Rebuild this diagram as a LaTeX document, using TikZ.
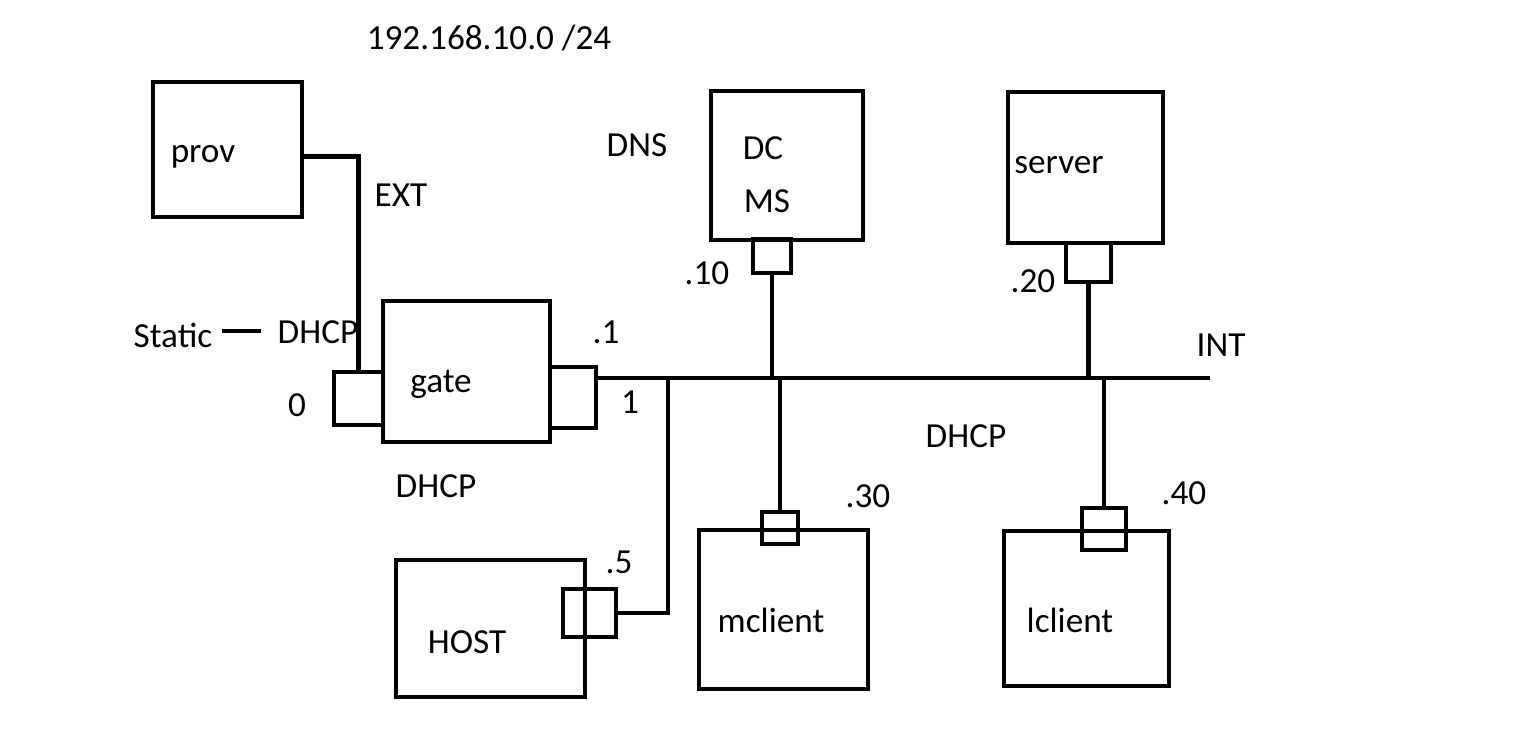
\documentclass[tikz,border=0pt]{standalone}
\usepackage{fontspec}
\setmainfont{Carlito}
\usepackage{tikz}

\tikzset{
  box/.style={draw, line width=2.2pt, inner sep=0pt},
  wire/.style={line width=2.2pt},
  lbl/.style={font=\fontsize{17.6}{20}\selectfont}
}

\begin{document}
\begin{tikzpicture}[x=0.5pt, y=-0.5pt]
\useasboundingbox (0,0) rectangle (1518,741);

% Boxes
\node[box, minimum width=74.5pt, minimum height=67.5pt] (prov) at (227.5,149.5) {};
\node[box, minimum width=83.5pt, minimum height=70.5pt] (gate) at (466.5,371.5) {};
\node[box, minimum width=24.5pt, minimum height=26.5pt] (g0) at (358.5,398.5) {};
\node[box, minimum width=23pt, minimum height=30.5pt] (g1) at (573,397.5) {};
\node[box, minimum width=76pt, minimum height=74.5pt] (dc) at (787,165.5) {};
\node[box, minimum width=19pt, minimum height=17pt] (dc10) at (772,256) {};
\node[box, minimum width=77.5pt, minimum height=75.5pt] (server) at (1085.5,167.5) {};
\node[box, minimum width=22.5pt, minimum height=19.5pt] (srv20) at (1088.5,262.5) {};
\node[box, minimum width=94.5pt, minimum height=68.5pt] (host) at (490.5,628.5) {};
\node[box, minimum width=26.5pt, minimum height=24pt] (h5) at (589.5,613) {};
\node[box, minimum width=84.5pt, minimum height=79.5pt] (mclient) at (783.5,609.5) {};
\node[box, minimum width=18pt, minimum height=16pt] (mc30) at (780,528) {};
\node[box, minimum width=82.5pt, minimum height=77.5pt] (lclient) at (1086.5,608.5) {};
\node[box, minimum width=22pt, minimum height=21pt] (lc40) at (1104,529) {};

% Texts
\node[lbl] (net) at (489,38) {192.168.10.0 /24};
\node[lbl] (provtxt) at (203,157) {prov};
\node[lbl] (ext) at (401,195) {EXT};
\node[lbl] (dns) at (637,145) {DNS};
\node[lbl] (dctxt) at (763,148) {DC};
\node[lbl] (mstxt) at (767,201) {MS};
\node[lbl] (servertxt) at (1059,165) {server};
\node[lbl] (ip10) at (707,273) {.10};
\node[lbl] (ip20) at (1033,281) {.20};
\node[lbl] (int) at (1221,345) {INT};
\node[lbl] (stat) at (173,335) {Static};
\node[lbl] (dhcpl) at (318,332) {DHCP};
\node[lbl] (zero) at (297,405) {0};
\node[lbl] (gatetxt) at (441,384) {gate};
\node[lbl] (ip1) at (606,332) {.1};
\node[lbl] (one) at (630,402) {1};
\node[lbl] (dhcpr) at (966,436) {DHCP};
\node[lbl] (dhcpb) at (436,486) {DHCP};
\node[lbl] (ip30) at (868,496) {.30};
\node[lbl] (ip40) at (1184,493) {.40};
\node[lbl] (ip5) at (619,562) {.5};
\node[lbl] (hosttxt) at (467,642) {HOST};
\node[lbl] (mclienttxt) at (771,620) {mclient};
\node[lbl] (lclienttxt) at (1070,620) {lclient};

% Wires
\coordinate (busend) at (1210,378);
\coordinate (hostjoin) at (668,378);
\coordinate (statline) at (0,331);
\draw[wire] ([yshift=-3.5pt]prov.east) -| (g0.north);
\draw[wire, shorten <=1.5pt, shorten >=5pt] (stat.east |- statline) -- (dhcpl.west |- statline);
\draw[wire] (g1.east |- busend) -- (busend);
\draw[wire] (hostjoin) |- (h5.east);
\draw[wire] (dc10.south) -- (dc10.south |- busend);
\draw[wire] (srv20.south) -- (srv20.south |- busend);
\draw[wire] (mc30.north |- busend) -- (mc30.north);
\draw[wire] (lc40.north |- busend) -- (lc40.north);

\end{tikzpicture}
\end{document}
